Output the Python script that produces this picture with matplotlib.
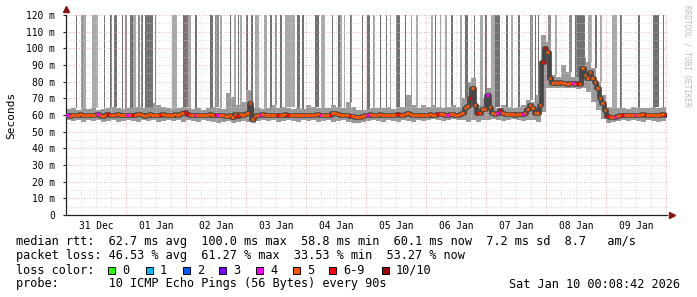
import numpy as np
import matplotlib
matplotlib.use("Agg")
import matplotlib.pyplot as plt
from matplotlib.patches import Rectangle

# median rtt in ms, one value per hour starting 31 Dec 00:00
median_rtt = [
    60.0, 59.6, 60.2, 60.0, 59.8, 60.4, 60.0, 59.7, 60.1, 60.3, 59.8, 60.0, 60.5, 60.2, 59.6, 60.0, 60.4, 60.1, 59.8, 60.0, 60.6, 60.2, 59.9, 60.1,
    60.3, 60.0, 59.7, 60.2, 60.8, 60.4, 60.0, 59.6, 60.1, 60.5, 60.2, 59.9, 60.0, 60.3, 60.6, 60.1, 59.8, 60.0, 60.2, 60.4, 60.0, 60.7, 61.0, 61.8,
    60.8, 60.2, 60.0, 59.8, 60.1, 60.3, 60.0, 59.7, 60.2, 60.4, 60.1, 59.8, 60.0, 60.3, 60.0, 59.6, 59.4, 60.2, 59.0, 60.8, 59.2, 60.4, 59.8, 60.6,
    61.0, 67.5, 57.5, 59.2, 60.0, 60.2, 60.4, 60.0, 59.8, 60.1, 60.3, 60.0, 59.7, 60.2, 60.0, 60.4, 60.1, 59.8, 60.0, 60.2, 60.3, 60.0, 59.9, 60.1,
    60.2, 60.0, 59.8, 60.1, 60.4, 60.0, 59.7, 60.2, 60.0, 60.3, 61.2, 61.5, 60.8, 60.1, 59.9, 60.2, 60.0, 59.6, 59.2, 58.8, 58.6, 59.0, 59.6, 60.0,
    60.1, 60.4, 60.0, 59.8, 60.2, 60.5, 60.1, 59.9, 60.3, 60.0, 59.8, 60.2, 60.4, 60.0, 59.7, 60.6, 61.0, 60.4, 60.0, 60.2, 59.9, 60.1, 60.3, 60.0,
    60.3, 60.6, 60.2, 60.0, 60.4, 60.8, 60.5, 60.1, 60.3, 60.6, 60.4, 60.2, 60.0, 60.5, 61.0, 64.5, 65.5, 70.0, 76.0, 66.0, 61.0, 61.2, 63.5, 63.5,
    72.0, 65.0, 61.0, 60.6, 61.0, 63.0, 61.0, 60.6, 60.4, 60.8, 60.5, 60.2, 60.6, 60.4, 60.8, 61.5, 63.5, 66.0, 64.0, 61.0, 61.5, 66.0, 92.0, 100.0,
    98.0, 82.0, 79.5, 79.8, 79.2, 79.6, 79.0, 79.3, 78.8, 79.4, 79.0, 78.6, 79.2, 78.8, 88.0, 84.0, 82.0, 86.0, 82.0, 80.0, 76.0, 70.0, 67.0, 63.0,
    59.5, 59.0, 58.8, 59.0, 59.4, 59.8, 60.0, 60.2, 59.9, 60.1, 60.3, 60.0, 59.8, 60.2, 60.4, 60.0, 59.7, 60.1, 60.3, 60.0, 59.8, 60.2, 60.4, 60.0,
]

# loss colour class per hour (index into loss_colors)
loss_class = (
    "455555555555455565555555"
    "456555555555565555555556"
    "655455555556455555556555"
    "555554555555655565555555"
    "555554555655555556555555"
    "455555555555655555555555"
    "555565554555555556556555"
    "455546555555554555555566"
    "555555555545655555555555"
    "655455655554555655555556"
)

# smoke band (ms), one value per 2 hours
smoke_hi = [
    63.5, 64, 63, 64.5, 63.5, 64, 63, 63.5, 64, 65, 64.5, 63.5,
    64, 64.5, 65, 64, 65.5, 67, 66, 65, 64, 63.5, 64.5, 65,
    64, 63.5, 64, 63, 64.5, 65, 64, 63.5, 73, 71, 66, 68,
    75, 64, 64, 63.5, 64, 66, 64, 65, 64, 63.5, 64, 63.5,
    66, 65, 64, 64, 64.5, 66, 65, 64, 68, 65, 63, 63,
    63.5, 64, 64, 64.5, 65, 63.5, 65, 65, 72, 66, 64.5, 66,
    65, 66, 65, 64.5, 65, 66, 65, 70, 80, 82, 66, 70,
    76, 65, 64, 66, 65, 64.5, 65, 66, 69, 68, 72, 108,
    104, 84, 83, 90, 86, 83, 84, 95, 92, 88, 80, 72,
    65, 64, 64.5, 64, 63.5, 65, 64, 64.5, 64, 65, 64, 65,
]
smoke_lo = [
    57, 56.5, 57, 56, 57, 56.5, 57, 56, 56.5, 57, 56, 56.5,
    57, 56.5, 56, 57, 56.5, 57, 56, 56.5, 57, 56.5, 57, 56,
    57, 56.5, 56, 57, 56.5, 56, 55, 56, 56.5, 55.5, 56, 56.5,
    56, 55, 56.5, 57, 56.5, 57, 56, 56.5, 57, 56.5, 56, 57,
    56.5, 57, 56, 56.5, 57, 56, 56.5, 57, 56, 55.5, 55, 56,
    56.5, 57, 56.5, 56, 57, 56.5, 56, 57, 56.5, 56, 57, 56.5,
    57, 57.5, 57, 56.5, 57, 57.5, 57, 57, 56, 57, 56, 57,
    57, 57.5, 57, 56.5, 57, 57.5, 57, 56.5, 57, 57, 56, 62,
    76, 76, 76, 76.5, 76, 76, 75.5, 76, 74, 68, 63, 57.5,
    55.5, 56, 56.5, 57, 56.5, 57, 56.5, 56, 57, 56.5, 56, 56.5,
]

# tall loss smoke columns (hours since 31 Dec 00:00)
bar_start = [3.8, 6.0, 6.8, 10.4, 15.0, 17.6, 19.2, 22.2, 23.6, 25.6,
             26.8, 28.8, 30.0, 31.6, 35.6, 42.4, 46.8, 48.8, 51.6, 57.6,
             59.6, 61.6, 65.4, 67.2, 68.8, 69.6, 72.0, 74.0, 75.6, 79.2,
             81.6, 83.6, 85.6, 87.6, 92.4, 94.4, 99.6, 102.0, 106.4, 108.8,
             109.6, 111.0, 113.6, 118.4, 120.4, 122.8, 125.6, 128.0, 129.6, 132.0,
             135.6, 138.0, 140.0, 146.0, 147.6, 149.6, 151.6, 154.0, 157.6, 159.6,
             163.2, 165.6, 167.6, 170.0, 171.6, 176.0, 178.0, 180.8, 185.6, 187.6,
             188.8, 192.8, 195.6, 201.2, 203.6, 208.8, 211.6, 213.6, 218.4, 221.6,
             228.8, 234.8, 238.8]
bar_end = [4.4, 6.8, 8.0, 12.8, 15.6, 18.2, 20.4, 22.6, 24.4, 26.8,
           28.0, 29.6, 30.8, 34.8, 36.0, 44.4, 48.8, 50.0, 52.4, 58.8,
           61.2, 62.4, 66.0, 68.0, 69.2, 70.4, 72.8, 74.8, 77.2, 80.4,
           82.4, 84.4, 86.4, 91.6, 93.6, 95.2, 101.2, 103.6, 106.8, 109.6,
           110.4, 111.6, 114.4, 118.8, 121.6, 123.6, 126.0, 128.4, 130.0, 133.6,
           136.0, 138.4, 140.8, 146.8, 148.0, 150.0, 152.4, 154.8, 158.4, 160.8,
           163.6, 166.8, 168.4, 171.6, 173.6, 176.8, 178.8, 181.6, 186.8, 188.0,
           189.2, 194.0, 196.4, 202.4, 207.6, 210.4, 212.4, 214.4, 220.4, 222.4,
           229.6, 237.2, 239.2]
bar_shade = ("dmllddddmd" "lmddmldldd" "mldldlddll" "dmdldddldd" "lldddlddld"
             "dmlldlldld" "dldlddldmd" "dmlmdldlld" "ddd")

day_labels = ["31 Dec", "01 Jan", "02 Jan", "03 Jan", "04 Jan",
              "05 Jan", "06 Jan", "07 Jan", "08 Jan", "09 Jan"]
y_ticks = [0, 10, 20, 30, 40, 50, 60, 70, 80, 90, 100, 110, 120]
y_labels = ["0", "10 m", "20 m", "30 m", "40 m", "50 m", "60 m",
            "70 m", "80 m", "90 m", "100 m", "110 m", "120 m"]

loss_names = ["0", "1", "2", "3", "4", "5", "6-9", "10/10"]
loss_colors = ["#26ff00", "#00b8ff", "#0059ff", "#7e00ff",
               "#ff00ff", "#ff5500", "#ff0000", "#a10000"]

line_rtt = "median rtt:  62.7 ms avg  100.0 ms max  58.8 ms min  60.1 ms now  7.2 ms sd  8.7   am/s"
line_loss = "packet loss: 46.53 % avg  61.27 % max  33.53 % min  53.27 % now"
line_probe = "probe:       10 ICMP Echo Pings (56 Bytes) every 90s"
stamp = "Sat Jan 10 00:08:42 2026"

W, H = 697, 297
MONO = "DejaVu Sans Mono"
shade_map = {"d": "#727272", "m": "#8e8e8e", "l": "#a9a9a9"}


def fx(x):
    return x / W


def fy(y):
    return 1 - y / H


fig = plt.figure(figsize=(W / 100, H / 100), dpi=100, facecolor="white")
ax = fig.add_axes([fx(66), fy(215), 601 / W, 200 / H])

hours = np.arange(len(median_rtt))

# smoke band
edges = np.arange(0, 2 * len(smoke_hi) + 1, 2)
ax.fill_between(edges, smoke_lo + [smoke_lo[-1]], smoke_hi + [smoke_hi[-1]],
                step="post", color="#9a9a9a", linewidth=0, zorder=1)

# tall loss columns, sitting on top of the smoke band
starts = np.array(bar_start)
widths = np.array(bar_end) - starts
bottoms = np.array([smoke_hi[int(s // 2)] for s in bar_start])
ax.bar(starts, 130 - bottoms, width=widths, bottom=bottoms, align="edge",
       color=[shade_map[s] for s in bar_shade], linewidth=0, zorder=1.5)

# grid (drawn over the smoke like rrdtool)
for v in np.arange(5, 121, 5):
    col = "#cfcfcf" if v % 10 else "#e4a0a0"
    ax.axhline(v, color=col, lw=0.6, ls=(0, (1, 2)), zorder=2)
for h in np.arange(6, 241, 6):
    col = "#cfcfcf" if h % 24 else "#e4a0a0"
    ax.axvline(h, color=col, lw=0.6, ls=(0, (1, 2)), zorder=2)

# median line: dark core plus loss-coloured steps
ax.step(np.append(hours, hours[-1] + 1), median_rtt + [median_rtt[-1]],
        where="post", color="#464646", lw=3.4, zorder=3)
ax.hlines(median_rtt, hours, hours + 1,
          colors=[loss_colors[int(c)] for c in loss_class], lw=2.3, zorder=4)

ax.set_xlim(0, 240.2)
ax.set_ylim(0, 120)
ax.set_facecolor("white")
for s in ["top", "right"]:
    ax.spines[s].set_visible(False)
for s in ["left", "bottom"]:
    ax.spines[s].set_color("#222222")
    ax.spines[s].set_linewidth(0.9)

ax.set_xticks(np.arange(12, 240, 24))
ax.set_xticklabels(day_labels, family=MONO, fontsize=6.9)
ax.set_yticks(y_ticks)
ax.set_yticklabels(y_labels, family=MONO, fontsize=6.9)
ax.tick_params(axis="x", length=0, pad=4)
ax.tick_params(axis="y", length=2, pad=6, color="#222222")

# axis arrows
ax.plot([0], [123.5], marker="^", color="#8b1010", ms=4, clip_on=False, zorder=6)
ax.plot([242], [0], marker=">", color="#8b1010", ms=4, clip_on=False, zorder=6)

fig.text(fx(11), fy(115), "Seconds", rotation=90, family=MONO, fontsize=8,
         ha="center", va="center")
fig.text(fx(687), fy(5), "RRDTOOL / TOBI OETIKER", rotation=270, family=MONO,
         fontsize=5.6, color="#bdbdbd", ha="center", va="top")

fs = 8.55
fig.text(fx(16), fy(241), line_rtt, family=MONO, fontsize=fs, va="center")
fig.text(fx(16), fy(256), line_loss, family=MONO, fontsize=fs, va="center")
fig.text(fx(16), fy(270), "loss color:", family=MONO, fontsize=fs, va="center")
fig.text(fx(16), fy(284), line_probe, family=MONO, fontsize=fs, va="center")
fig.text(fx(680), fy(284), stamp, family=MONO, fontsize=fs, va="center", ha="right")

sq_x = [108, 146, 183, 219, 256, 293, 329, 382]
for x, name, col in zip(sq_x, loss_names, loss_colors):
    fig.patches.append(Rectangle((fx(x), fy(273.5)), 7 / W, 7 / H, transform=fig.transFigure,
                                 facecolor=col, edgecolor="black", lw=0.7))
    fig.text(fx(x + 14), fy(270), name, family=MONO, fontsize=fs, va="center")

fig.savefig("out.png", dpi=100, facecolor="white")
